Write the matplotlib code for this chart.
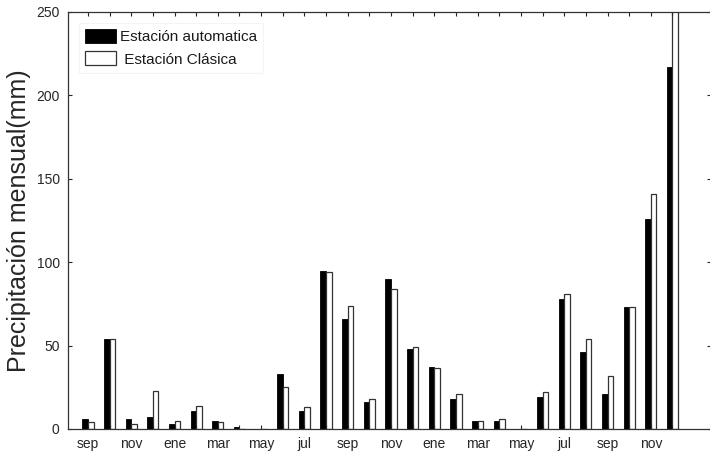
import numpy as np
import matplotlib
matplotlib.use('Agg')
import matplotlib.pyplot as plt

plt.rcParams['font.family'] = ['Liberation Sans', 'DejaVu Sans']

# monthly precipitation, sep (year 1) .. dic (year 3)
months = ['sep', 'oct', 'nov', 'dic', 'ene', 'feb', 'mar', 'abr', 'may', 'jun', 'jul', 'ago',
          'sep', 'oct', 'nov', 'dic', 'ene', 'feb', 'mar', 'abr', 'may', 'jun', 'jul', 'ago',
          'sep', 'oct', 'nov', 'dic']
automatica = [6, 54, 6, 7, 3, 11, 5, 1, 0, 33, 11, 95,
              66, 16, 90, 48, 37, 18, 5, 5, 0, 19, 78, 46,
              21, 73, 126, 217]
clasica = [4, 54, 3, 23, 5, 14, 4, 0, 0, 25, 13, 94,
           74, 18, 84, 49, 36.5, 21, 5, 6, 0, 22, 81, 54,
           32, 73, 141, 262]

x = np.arange(len(months))
w = 0.26
txt = '#262626'

fig = plt.figure(figsize=(7.1, 4.53), dpi=100)
ax = fig.add_axes([68/710, 24/453, 643/710, 417/453])

ax.bar(x - w/2, automatica, w, color='black', edgecolor='black', linewidth=0.6,
       label='Estación automatica')
ax.bar(x + w/2, clasica, w, color='white', edgecolor='#333333', linewidth=0.9,
       label=' Estación Clásica')

ax.set_xlim(-0.92, 28.78)
ax.set_ylim(0, 250)
ax.set_yticks(range(0, 251, 50))
ax.set_xticks(x)
ax.set_xticklabels([m if i % 2 == 0 else '' for i, m in enumerate(months)])

ax.tick_params(direction='in', top=True, right=True, length=3, width=0.8,
               labelsize=10, colors=txt, pad=6)
for s in ax.spines.values():
    s.set_color('#333333')
    s.set_linewidth(0.9)

ax.set_ylabel('Precipitación mensual(mm)', fontsize=18, color=txt, labelpad=4)

leg = ax.legend(loc='upper left', bbox_to_anchor=(0.0171, 0.9736), borderaxespad=0,
                borderpad=0.4, fontsize=11, handlelength=2.0, handleheight=1.05,
                handletextpad=0.27, labelspacing=0.45, fancybox=False, framealpha=1)
leg.get_frame().set_edgecolor('#f4f4f4')
leg.get_frame().set_linewidth(0.8)
for t in leg.get_texts():
    t.set_color('#1a1a1a')

fig.savefig('out.png', dpi=100)
